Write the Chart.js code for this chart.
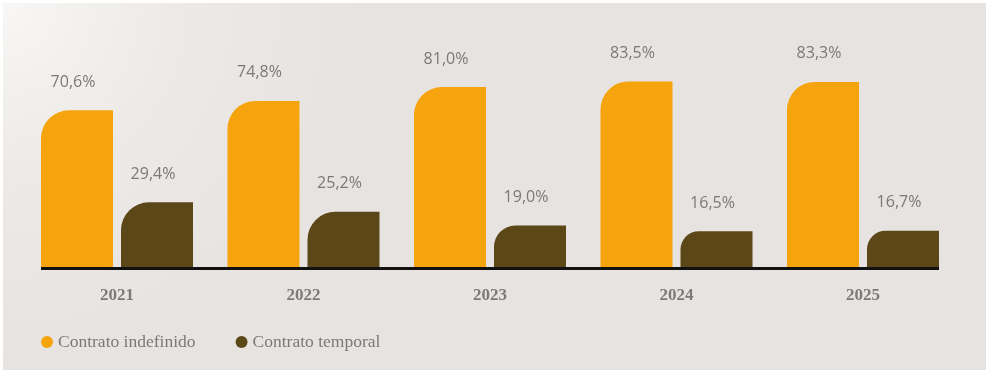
<!DOCTYPE html>
<html>
<head>
<meta charset="utf-8">
<script src="https://cdn.jsdelivr.net/npm/chart.js@4"></script>
<style>
  html, body { margin: 0; padding: 0; background: #fff; }
  #wrap {
    position: absolute; left: 3px; top: 3px; width: 983px; height: 367px;
    background: radial-gradient(circle at 0 0, #f8f7f5 0, #ece9e6 180px, #e6e3e0 360px);
  }
  #chart { position: absolute; left: 0; top: 0; }
</style>
</head>
<body>
<div id="wrap"></div>
<canvas id="chart" width="989" height="373"></canvas>
<script>
const years = ['2021', '2022', '2023', '2024', '2025'];
const indefinido = [70.6, 74.8, 81.0, 83.5, 83.3];
const temporal = [29.4, 25.2, 19.0, 16.5, 16.7];
const seriesNames = ['Contrato indefinido', 'Contrato temporal'];
const seriesColors = ['#f6a40d', '#5b4718'];

const labelGray = '#7a7a7a';

// value labels over each bar
const valueLabels = {
    id: 'valueLabels',
    afterDatasetsDraw(chart) {
        const ctx = chart.ctx;
        ctx.save();
        ctx.font = '16px "Open Sans"';
        ctx.fillStyle = labelGray;
        ctx.textAlign = 'center';
        ctx.textBaseline = 'middle';
        chart.data.datasets.forEach((ds, i) => {
            chart.getDatasetMeta(i).data.forEach((bar, j) => {
                const txt = ds.data[j].toFixed(1).replace('.', ',') + '%';
                ctx.fillText(txt, bar.x - 4, bar.y - 28);
            });
        });
        ctx.restore();
    }
};

// black base line under the bars only
const baseLine = {
    id: 'baseLine',
    afterDatasetsDraw(chart) {
        const first = chart.getDatasetMeta(0).data[0];
        const lastMeta = chart.getDatasetMeta(chart.data.datasets.length - 1).data;
        const last = lastMeta[lastMeta.length - 1];
        const y = chart.scales.y.getPixelForValue(0);
        const ctx = chart.ctx;
        ctx.save();
        ctx.strokeStyle = '#111';
        ctx.lineWidth = 3;
        ctx.beginPath();
        ctx.moveTo(first.x - first.width / 2, y + 0.5);
        ctx.lineTo(last.x + last.width / 2, y + 0.5);
        ctx.stroke();
        ctx.restore();
    }
};

// legend drawn by hand so spacing matches
const bottomLegend = {
    id: 'bottomLegend',
    afterDraw(chart) {
        const ctx = chart.ctx;
        ctx.save();
        ctx.font = '17.5px "Liberation Serif"';
        ctx.textBaseline = 'middle';
        let x = 41;
        const y = 342;
        chart.data.datasets.forEach(ds => {
            ctx.fillStyle = ds.backgroundColor;
            ctx.beginPath();
            ctx.arc(x + 6, y, 6, 0, Math.PI * 2);
            ctx.fill();
            ctx.fillStyle = labelGray;
            ctx.fillText(ds.label, x + 17, y);
            x += 17 + ctx.measureText(ds.label).width + 40;
        });
        ctx.restore();
    }
};

const datasets = [indefinido, temporal].map((vals, i) => ({
    label: seriesNames[i],
    data: vals,
    backgroundColor: seriesColors[i],
    borderRadius: { topLeft: 28, topRight: 0, bottomLeft: 0, bottomRight: 0 },
    borderSkipped: 'start',
    categoryPercentage: 0.858,
    barPercentage: 0.9
}));

new Chart(document.getElementById('chart').getContext('2d'), {
    type: 'bar',
    data: { labels: years, datasets: datasets },
    plugins: [valueLabels, baseLine, bottomLegend],
    options: {
        responsive: false,
        animation: false,
        layout: { padding: { left: 23.75, right: 32.75, top: 44.6, bottom: 50.6 } },
        plugins: {
            legend: { display: false },
            tooltip: { enabled: false }
        },
        scales: {
            x: {
                grid: { display: false, drawTicks: false },
                border: { display: false },
                ticks: {
                    padding: 17,
                    color: labelGray,
                    font: { family: '"Liberation Serif"', size: 17, weight: 'bold' }
                }
            },
            y: {
                display: false,
                min: 0,
                max: 100
            }
        }
    }
});
</script>
</body>
</html>
